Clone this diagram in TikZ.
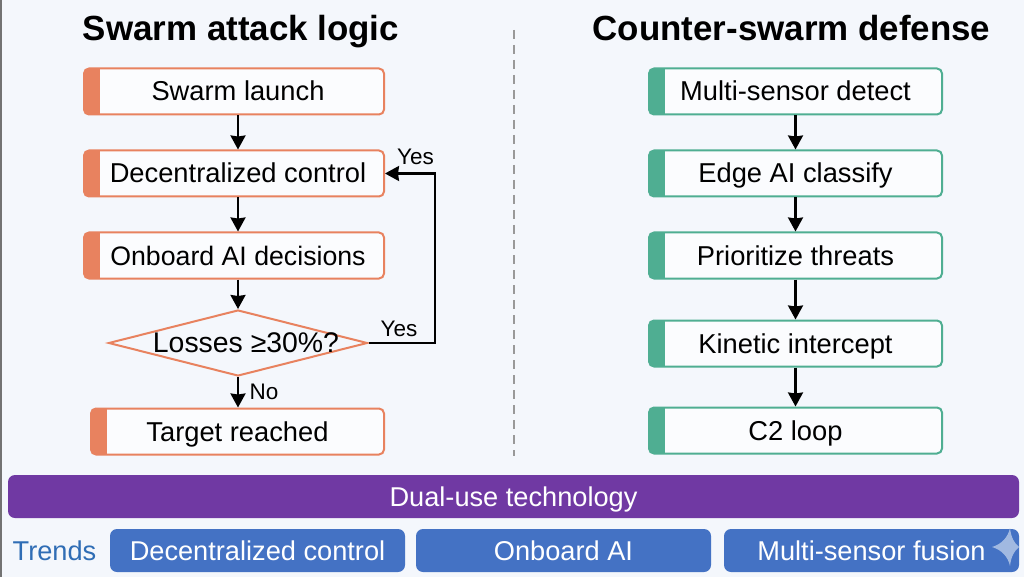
\documentclass[tikz,border=0pt]{standalone}
\usepackage{fontspec}
\setmainfont{Liberation Sans}
\usetikzlibrary{arrows.meta, positioning, shapes.geometric}
\definecolor{pagebg}{HTML}{F4F7FC}
\definecolor{attackc}{HTML}{E8825F}
\definecolor{defensec}{HTML}{4FAE92}
\definecolor{dualc}{HTML}{7039A3}
\definecolor{trendc}{HTML}{4472C4}
\definecolor{trendt}{HTML}{2F6DB5}
\tikzset{
	stepbox/.style={draw=#1, line width=2pt, fill=white!60!pagebg, rounded corners=5pt, inner sep=0pt,
		minimum height=46pt, text height=24pt, text depth=5pt, font=\fontsize{27.3}{30}\selectfont,
		path picture={\fill[#1, sharp corners] ([xshift=-1pt]path picture bounding box.south west) rectangle ([xshift=16pt]path picture bounding box.north west);}},
	flowarrow/.style={-{Stealth[length=14pt,width=15pt,inset=1pt]}, line width=2.2pt, black},
	flowlabel/.style={font=\fontsize{22.5}{26}\selectfont},
	titletext/.style={font=\fontsize{34.9}{38}\selectfont\bfseries, text height=28pt, text depth=4pt},
	bandtext/.style={font=\fontsize{27.2}{30}\selectfont, text height=24pt, text depth=5pt, inner ysep=0pt},
	trendbox/.style={bandtext, fill=trendc, text=white, rounded corners=7pt, minimum width=295pt, minimum height=43pt}
}
\begin{document}
\begin{tikzpicture}[x=1pt, y=-1pt]
	\useasboundingbox (0,0) rectangle (1024,577);
	\fill[pagebg] (0,0) rectangle (1024,577);
	\fill[black!55] (0,0) rectangle (1.5,577);
	% Titles
	\node[titletext] (attacktitle) at (241,29) {Swarm attack logic};
	\node[titletext] (defensetitle) at (791.5,29) {Counter-swarm defense};
	% Divider
	\coordinate (divtop) at (514,30);
	\coordinate (divbot) at (514,456);
	\draw[black!40, line width=2pt, dash pattern=on 9pt off 6pt] (divtop) -- (divbot);
	% Attack side
	\node[stepbox=attackc, minimum width=300pt] (launch) at (234,91.5) {\hspace*{8pt}Swarm launch};
	\node[stepbox=attackc, minimum width=300pt] (control) at (234,173.5) {\hspace*{8pt}Decentralized control};
	\node[stepbox=attackc, minimum width=300pt] (onboard) at (234,255.5) {\hspace*{8pt}\fontsize{26.7}{30}\selectfont Onboard AI decisions};
	\node[diamond, draw=attackc, line width=2pt, inner sep=0pt, minimum width=259pt, minimum height=66pt, font=\fontsize{28.4}{30}\selectfont] (losses) at (238,343) {\makebox[0pt]{\hspace*{16pt}\raisebox{-1pt}{Losses ≥30\%?}}};
	\node[stepbox=attackc, minimum width=293pt] (target) at (237.5,431.5) {Target reached};
	\coordinate (loopcorner) at (435,260);
	\draw[flowarrow] (launch.south -| losses) -- (control.north -| losses);
	\draw[flowarrow] (control.south -| losses) -- (onboard.north -| losses);
	\draw[flowarrow] (onboard.south -| losses) -- (losses.north);
	\draw[flowarrow] (losses.south) -- (target.north -| losses);
	\draw[flowarrow] (losses.east) -| (loopcorner) |- (control.east);
	\node[flowlabel] (yesloop) at (415.5,157) {Yes};
	\node[flowlabel] (yesout) at (399,329) {Yes};
	\node[flowlabel] (noout) at (264,392) {No};
	% Defense side
	\node[stepbox=defensec, minimum width=293pt] (detect) at (795.5,91.5) {Multi-sensor detect};
	\node[stepbox=defensec, minimum width=293pt] (classify) at (795.5,173.5) {Edge AI classify};
	\node[stepbox=defensec, minimum width=293pt] (threats) at (795.5,255.5) {Prioritize threats};
	\node[stepbox=defensec, minimum width=293pt] (kinetic) at (795.5,343.5) {Kinetic intercept};
	\node[stepbox=defensec, minimum width=293pt] (cloop) at (795.5,430.5) {C2 loop};
	\draw[flowarrow] (detect) -- (classify);
	\draw[flowarrow] (classify) -- (threats);
	\draw[flowarrow] (threats) -- (kinetic);
	\draw[flowarrow] (kinetic) -- (cloop);
	% Bottom bands
	\node[bandtext, fill=dualc, text=white, rounded corners=7pt, minimum width=1011pt, minimum height=43pt] (dualuse) at (513.5,496.5) {Dual-use technology};
	\node[bandtext, text=trendt] (trends) at (54.5,551) {Trends};
	\node[trendbox] (trendone) at (257.5,550.5) {Decentralized control};
	\node[trendbox] (trendtwo) at (563.5,550.5) {Onboard AI};
	\node[trendbox] (trendthree) at (871.5,550.5) {Multi-sensor fusion};
	% Corner star
	\fill[white!50!trendc] (1010,528) .. controls (1011,537) and (1014,543) .. (1019,547) .. controls (1014,551) and (1011,557) .. (1010,566) .. controls (1008,557) and (1002,550) .. (992,547) .. controls (1002,544) and (1008,537) .. (1010,528) -- cycle;
\end{tikzpicture}
\end{document}
